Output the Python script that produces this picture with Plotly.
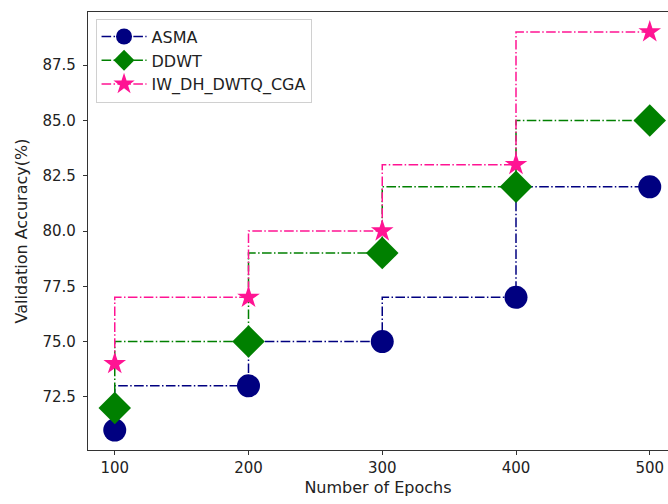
import plotly.graph_objects as go

epochs = [100, 200, 300, 400, 500]
asma = [71, 73, 75, 77, 82]
ddwt = [72, 75, 79, 82, 85]
iw_dh = [74, 77, 80, 83, 89]

series = [
    ("ASMA", asma, "#000080", "circle", 23),
    ("DDWT", ddwt, "#008000", "diamond", 25),
    ("IW_DH_DWTQ_CGA", iw_dh, "#FF1493", "star", 17),
]

FONT = "DejaVu Sans"
dashdot = "9.6px,2.4px,1.5px,2.4px"

fig = go.Figure()
for name, vals, color, symbol, size in series:
    fig.add_trace(go.Scatter(
        x=epochs, y=vals, name=name, mode="lines+markers", legendgroup=name,
        line=dict(color=color, width=1.5, dash=dashdot, shape="vh"),
        marker=dict(symbol=symbol, size=size, color=color, line=dict(width=0)),
    ))

fig.update_layout(
    width=668, height=504,
    margin=dict(l=88, r=0, t=12, b=54),
    paper_bgcolor="white", plot_bgcolor="white",
    font=dict(family=FONT, size=16, color="#222222"),
    showlegend=True,
    legend=dict(
        x=0.013, y=0.985, xanchor="left", yanchor="top",
        bgcolor="rgba(255,255,255,0.8)", bordercolor="#d0d0d0", borderwidth=1,
        font=dict(family=FONT, size=16, color="#222222"),
        itemwidth=45, tracegroupgap=0,
    ),
    xaxis=dict(
        range=[80, 80 + (668 - 88) / 1.3375],
        tickvals=epochs, ticktext=[str(e) for e in epochs],
        showgrid=False, zeroline=False,
        showline=True, linecolor="#333333", linewidth=1.2, mirror=True,
        ticks="outside", ticklen=4, tickcolor="#333333",
        tickfont=dict(family=FONT, size=15),
        title=dict(text="Number of Epochs", font=dict(family=FONT, size=16), standoff=5),
    ),
    yaxis=dict(
        range=[70.1, 89.9],
        tickvals=[72.5, 75.0, 77.5, 80.0, 82.5, 85.0, 87.5],
        ticktext=["72.5", "75.0", "77.5", "80.0", "82.5", "85.0", "87.5"],
        showgrid=False, zeroline=False,
        showline=True, linecolor="#333333", linewidth=1.2,
        ticks="outside", ticklen=4, tickcolor="#333333",
        tickfont=dict(family=FONT, size=15),
        ticklabelstandoff=4,
        title=dict(text="Validation Accuracy(%)", font=dict(family=FONT, size=16), standoff=10),
    ),
)

fig.write_html("out.html")
